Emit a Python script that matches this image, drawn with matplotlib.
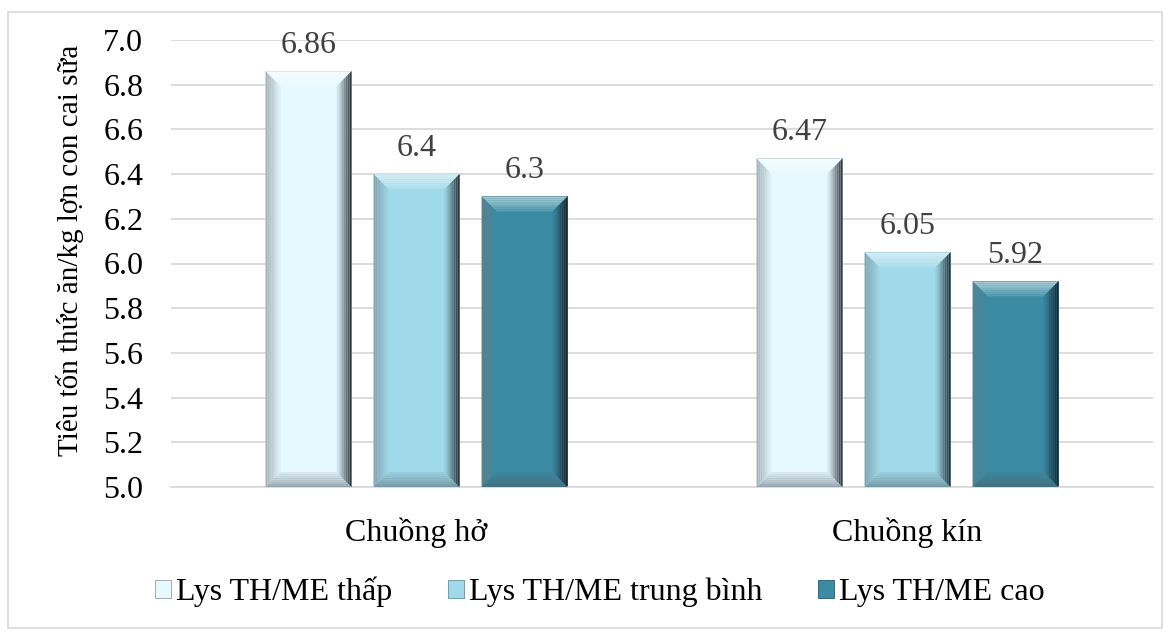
import matplotlib
matplotlib.use("Agg")
import matplotlib.pyplot as plt
import numpy as np
from matplotlib.patches import Polygon, Rectangle
from matplotlib.colors import to_rgb

categories = ["Chuồng hở", "Chuồng kín"]
series_names = ["Lys TH/ME thấp", "Lys TH/ME trung bình", "Lys TH/ME cao"]
low = [6.86, 6.47]
mid = [6.40, 6.05]
high = [6.30, 5.92]
series_values = [low, mid, high]
value_labels = [["6.86", "6.47"], ["6.4", "6.05"], ["6.3", "5.92"]]
yticks = [5.0, 5.2, 5.4, 5.6, 5.8, 6.0, 6.2, 6.4, 6.6, 6.8, 7.0]
ylabel = "Tiêu tốn thức ăn/kg lợn con cai sữa"

colors = ["#E6F9FE", "#A0DAEA", "#3A8BA3"]

plt.rcParams['font.family'] = ['Liberation Serif', 'DejaVu Serif']

W, H = 1171, 632
fig = plt.figure(figsize=(W / 100, H / 100), dpi=100)
fig.patch.set_facecolor("white")
# outer border
fig.add_artist(Rectangle((8 / W, 1 - 628 / H), (1162 - 8) / W, (628 - 12) / H,
                         transform=fig.transFigure, fill=False,
                         edgecolor="#D9D9D9", linewidth=1.2))

ax = fig.add_axes([171 / W, 1 - 487 / H, (1153 - 171) / W, (487 - 40) / H])
ax.set_xlim(-0.5, 1.5)
ax.set_ylim(5.0, 7.0)
ax.set_yticks(yticks)
ax.set_yticklabels([f"{t:.1f}" for t in yticks], fontsize=23)
ax.yaxis.grid(True, color="#D9D9D9", linewidth=1.3)
ax.set_axisbelow(True)
for s in ["top", "right", "left"]:
    ax.spines[s].set_visible(False)
ax.spines["bottom"].set_color("#D9D9D9")
ax.spines["bottom"].set_linewidth(1.3)
ax.tick_params(axis="y", length=0, pad=20)
ax.tick_params(axis="x", length=0, pad=22)
ax.set_xticks(range(len(categories)))
ax.set_xticklabels(categories, fontsize=23)
ax.set_ylabel(ylabel, fontsize=21, labelpad=14)
ax.yaxis.label.set_y(0.53)

x = np.arange(len(categories))
bw = 0.175
step = 0.22

# pixels per data unit
px_x = (1153 - 171) / 2.0
px_y = (487 - 40) / 2.0
bev = 15.0
bdx = bev / px_x
bdy = bev / px_y


def mix(c, other, t):
    c = np.array(to_rgb(c)); o = np.array(to_rgb(other))
    return tuple(c * (1 - t) + o * t)


bars_all = []
for i, (vals, col) in enumerate(zip(series_values, colors)):
    pos = x + (i - 1) * step
    bars = ax.bar(pos, [v - 5.0 for v in vals], bottom=5.0, width=bw, color=col,
                  edgecolor=mix(col, "black", 0.35), linewidth=0.6,
                  label=series_names[i], zorder=2)
    bars_all.append(bars)
    for b, lab in zip(bars, value_labels[i]):
        x0 = b.get_x(); x1 = x0 + b.get_width()
        y0 = b.get_y(); y1 = y0 + b.get_height()
        n = 8
        for k in range(n):
            t0 = k / n; t1 = (k + 1) / n
            # top bevel (light, brighter toward the edge)
            poly = Polygon([(x0 + bdx * t0, y1 - bdy * t0), (x1 - bdx * t0, y1 - bdy * t0),
                            (x1 - bdx * t1, y1 - bdy * t1), (x0 + bdx * t1, y1 - bdy * t1)],
                           closed=True, facecolor=mix(col, "white", 0.45 * (1 - t0) + 0.1),
                           edgecolor="none", zorder=3)
            ax.add_patch(poly)
            # bottom bevel (muted)
            poly = Polygon([(x0 + bdx * t0, y0 + bdy * t0), (x1 - bdx * t0, y0 + bdy * t0),
                            (x1 - bdx * t1, y0 + bdy * t1), (x0 + bdx * t1, y0 + bdy * t1)],
                           closed=True, facecolor=mix(col, "#4A5560", 0.45 * (1 - t0) + 0.05),
                           edgecolor="none", zorder=3)
            ax.add_patch(poly)
        for k in range(n):
            t0 = k / n; t1 = (k + 1) / n
            xa = x0 + bdx * t0; xb = x0 + bdx * t1
            poly = Polygon([(xa, y0 + bdy * t0), (xb, y0 + bdy * t1), (xb, y1 - bdy * t1), (xa, y1 - bdy * t0)],
                           closed=True, facecolor=mix(col, "#707880", 0.55 * (1 - t0)),
                           edgecolor="none", zorder=3)
            ax.add_patch(poly)
            xa = x1 - bdx * t0; xb = x1 - bdx * t1
            poly = Polygon([(xa, y0 + bdy * t0), (xb, y0 + bdy * t1), (xb, y1 - bdy * t1), (xa, y1 - bdy * t0)],
                           closed=True, facecolor=mix(col, "#101820", 0.85 * (1 - t0) ** 1.2),
                           edgecolor="none", zorder=3)
            ax.add_patch(poly)
        ax.text(b.get_x() + b.get_width() / 2, y1 + 0.05, lab, ha="center", va="bottom",
                fontsize=23, color="#404040", zorder=4)

leg = fig.legend(handles=[b[0] for b in bars_all], labels=series_names,
                 loc="center", bbox_to_anchor=(600 / W, 1 - 592 / H), ncol=3,
                 frameon=False, fontsize=23, handlelength=0.5, handleheight=0.5,
                 handletextpad=0.15, columnspacing=1.75)

fig.savefig("out.png", dpi=100, facecolor="white")
